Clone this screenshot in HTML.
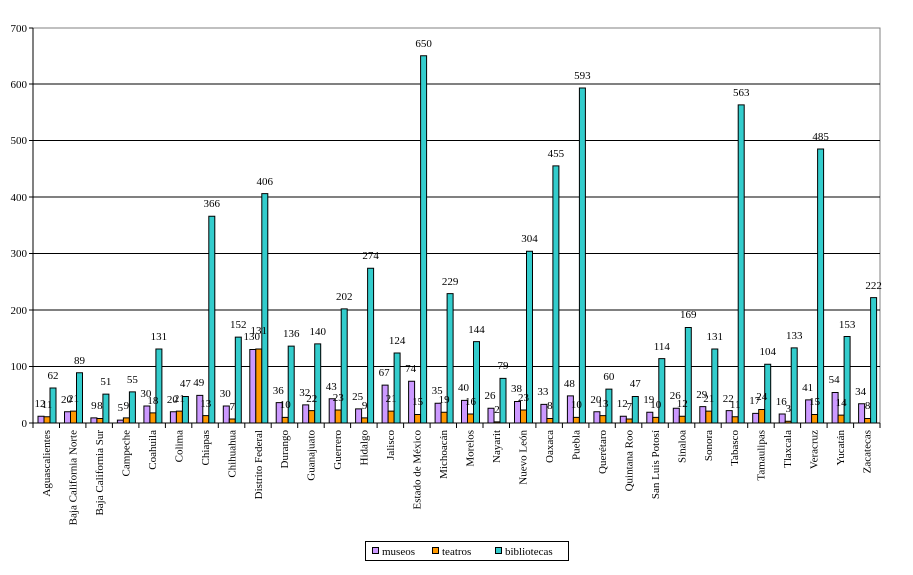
<!DOCTYPE html>
<html><head><meta charset="utf-8"><style>
html,body{margin:0;padding:0;background:#fff}
svg{display:block;font-family:"Liberation Serif",serif;font-size:11px}
.m{fill:#CC99FF}.t{fill:#FF9900}.b{fill:#33CCCC}
rect.m,rect.t,rect.b{stroke:#000;stroke-width:1}
.v text{text-anchor:middle}
</style></head><body>
<svg width="913" height="575" viewBox="0 0 913 575">
<rect x="33" y="28" width="847" height="395" fill="#fff" stroke="#808080"/>
<g stroke="#000" stroke-width="1">
<line x1="33" x2="880" y1="366.5" y2="366.5"/><line x1="33" x2="880" y1="310" y2="310"/>
<line x1="33" x2="880" y1="253.5" y2="253.5"/><line x1="33" x2="880" y1="197" y2="197"/>
<line x1="33" x2="880" y1="140.5" y2="140.5"/><line x1="33" x2="880" y1="84" y2="84"/>
<line x1="33" x2="33" y1="28" y2="423"/><line x1="29" x2="880" y1="423" y2="423"/>
<line x1="29" x2="33" y1="366.5" y2="366.5"/><line x1="29" x2="33" y1="310" y2="310"/><line x1="29" x2="33" y1="253.5" y2="253.5"/><line x1="29" x2="33" y1="197" y2="197"/><line x1="29" x2="33" y1="140.5" y2="140.5"/><line x1="29" x2="33" y1="84" y2="84"/><line x1="29" x2="33" y1="28" y2="28"/>
</g>
<g text-anchor="end">
<text x="27" y="427">0</text><text x="27" y="370">100</text><text x="27" y="314">200</text><text x="27" y="257">300</text><text x="27" y="201">400</text><text x="27" y="144">500</text><text x="27" y="88">600</text><text x="27" y="32">700</text>
</g>
<g stroke="#000">
<line x1="33" x2="33" y1="423" y2="428"/><line x1="59.5" x2="59.5" y1="423" y2="428"/><line x1="85.9" x2="85.9" y1="423" y2="428"/><line x1="112.4" x2="112.4" y1="423" y2="428"/><line x1="138.9" x2="138.9" y1="423" y2="428"/><line x1="165.4" x2="165.4" y1="423" y2="428"/><line x1="191.8" x2="191.8" y1="423" y2="428"/><line x1="218.3" x2="218.3" y1="423" y2="428"/><line x1="244.8" x2="244.8" y1="423" y2="428"/><line x1="271.2" x2="271.2" y1="423" y2="428"/><line x1="297.7" x2="297.7" y1="423" y2="428"/><line x1="324.2" x2="324.2" y1="423" y2="428"/><line x1="350.6" x2="350.6" y1="423" y2="428"/><line x1="377.1" x2="377.1" y1="423" y2="428"/><line x1="403.6" x2="403.6" y1="423" y2="428"/><line x1="430.1" x2="430.1" y1="423" y2="428"/><line x1="456.5" x2="456.5" y1="423" y2="428"/><line x1="483" x2="483" y1="423" y2="428"/><line x1="509.5" x2="509.5" y1="423" y2="428"/><line x1="535.9" x2="535.9" y1="423" y2="428"/><line x1="562.4" x2="562.4" y1="423" y2="428"/><line x1="588.9" x2="588.9" y1="423" y2="428"/><line x1="615.3" x2="615.3" y1="423" y2="428"/><line x1="641.8" x2="641.8" y1="423" y2="428"/><line x1="668.3" x2="668.3" y1="423" y2="428"/><line x1="694.8" x2="694.8" y1="423" y2="428"/><line x1="721.2" x2="721.2" y1="423" y2="428"/><line x1="747.7" x2="747.7" y1="423" y2="428"/><line x1="774.2" x2="774.2" y1="423" y2="428"/><line x1="800.6" x2="800.6" y1="423" y2="428"/><line x1="827.1" x2="827.1" y1="423" y2="428"/><line x1="853.6" x2="853.6" y1="423" y2="428"/><line x1="880" x2="880" y1="423" y2="428"/>
</g>

<!-- bars -->
<g id="bars">
<g transform="translate(33,423) scale(1,-0.565)"><rect class="m" x="5" width="6" height="12" vector-effect="non-scaling-stroke"/><rect class="t" x="11" width="6" height="11" vector-effect="non-scaling-stroke"/><rect class="b" x="17" width="6" height="62" vector-effect="non-scaling-stroke"/></g>
<g transform="translate(59.5,423) scale(1,-0.565)"><rect class="m" x="5" width="6" height="20" vector-effect="non-scaling-stroke"/><rect class="t" x="11" width="6" height="21" vector-effect="non-scaling-stroke"/><rect class="b" x="17" width="6" height="89" vector-effect="non-scaling-stroke"/></g>
<g transform="translate(85.9,423) scale(1,-0.565)"><rect class="m" x="5" width="6" height="9" vector-effect="non-scaling-stroke"/><rect class="t" x="11" width="6" height="8" vector-effect="non-scaling-stroke"/><rect class="b" x="17" width="6" height="51" vector-effect="non-scaling-stroke"/></g>
<g transform="translate(112.4,423) scale(1,-0.565)"><rect class="m" x="5" width="6" height="5" vector-effect="non-scaling-stroke"/><rect class="t" x="11" width="6" height="9" vector-effect="non-scaling-stroke"/><rect class="b" x="17" width="6" height="55" vector-effect="non-scaling-stroke"/></g>
<g transform="translate(138.9,423) scale(1,-0.565)"><rect class="m" x="5" width="6" height="30" vector-effect="non-scaling-stroke"/><rect class="t" x="11" width="6" height="18" vector-effect="non-scaling-stroke"/><rect class="b" x="17" width="6" height="131" vector-effect="non-scaling-stroke"/></g>
<g transform="translate(165.4,423) scale(1,-0.565)"><rect class="m" x="5" width="6" height="20" vector-effect="non-scaling-stroke"/><rect class="t" x="11" width="6" height="21" vector-effect="non-scaling-stroke"/><rect class="b" x="17" width="6" height="47" vector-effect="non-scaling-stroke"/></g>
<g transform="translate(191.8,423) scale(1,-0.565)"><rect class="m" x="5" width="6" height="49" vector-effect="non-scaling-stroke"/><rect class="t" x="11" width="6" height="13" vector-effect="non-scaling-stroke"/><rect class="b" x="17" width="6" height="366" vector-effect="non-scaling-stroke"/></g>
<g transform="translate(218.3,423) scale(1,-0.565)"><rect class="m" x="5" width="6" height="30" vector-effect="non-scaling-stroke"/><rect class="t" x="11" width="6" height="7" vector-effect="non-scaling-stroke"/><rect class="b" x="17" width="6" height="152" vector-effect="non-scaling-stroke"/></g>
<g transform="translate(244.8,423) scale(1,-0.565)"><rect class="m" x="5" width="6" height="130" vector-effect="non-scaling-stroke"/><rect class="t" x="11" width="6" height="131" vector-effect="non-scaling-stroke"/><rect class="b" x="17" width="6" height="406" vector-effect="non-scaling-stroke"/></g>
<g transform="translate(271.2,423) scale(1,-0.565)"><rect class="m" x="5" width="6" height="36" vector-effect="non-scaling-stroke"/><rect class="t" x="11" width="6" height="10" vector-effect="non-scaling-stroke"/><rect class="b" x="17" width="6" height="136" vector-effect="non-scaling-stroke"/></g>
<g transform="translate(297.7,423) scale(1,-0.565)"><rect class="m" x="5" width="6" height="32" vector-effect="non-scaling-stroke"/><rect class="t" x="11" width="6" height="22" vector-effect="non-scaling-stroke"/><rect class="b" x="17" width="6" height="140" vector-effect="non-scaling-stroke"/></g>
<g transform="translate(324.2,423) scale(1,-0.565)"><rect class="m" x="5" width="6" height="43" vector-effect="non-scaling-stroke"/><rect class="t" x="11" width="6" height="23" vector-effect="non-scaling-stroke"/><rect class="b" x="17" width="6" height="202" vector-effect="non-scaling-stroke"/></g>
<g transform="translate(350.6,423) scale(1,-0.565)"><rect class="m" x="5" width="6" height="25" vector-effect="non-scaling-stroke"/><rect class="t" x="11" width="6" height="9" vector-effect="non-scaling-stroke"/><rect class="b" x="17" width="6" height="274" vector-effect="non-scaling-stroke"/></g>
<g transform="translate(377.1,423) scale(1,-0.565)"><rect class="m" x="5" width="6" height="67" vector-effect="non-scaling-stroke"/><rect class="t" x="11" width="6" height="21" vector-effect="non-scaling-stroke"/><rect class="b" x="17" width="6" height="124" vector-effect="non-scaling-stroke"/></g>
<g transform="translate(403.6,423) scale(1,-0.565)"><rect class="m" x="5" width="6" height="74" vector-effect="non-scaling-stroke"/><rect class="t" x="11" width="6" height="15" vector-effect="non-scaling-stroke"/><rect class="b" x="17" width="6" height="650" vector-effect="non-scaling-stroke"/></g>
<g transform="translate(430.1,423) scale(1,-0.565)"><rect class="m" x="5" width="6" height="35" vector-effect="non-scaling-stroke"/><rect class="t" x="11" width="6" height="19" vector-effect="non-scaling-stroke"/><rect class="b" x="17" width="6" height="229" vector-effect="non-scaling-stroke"/></g>
<g transform="translate(456.5,423) scale(1,-0.565)"><rect class="m" x="5" width="6" height="40" vector-effect="non-scaling-stroke"/><rect class="t" x="11" width="6" height="16" vector-effect="non-scaling-stroke"/><rect class="b" x="17" width="6" height="144" vector-effect="non-scaling-stroke"/></g>
<g transform="translate(483,423) scale(1,-0.565)"><rect class="m" x="5" width="6" height="26" vector-effect="non-scaling-stroke"/><rect class="t" x="11" width="6" height="2" vector-effect="non-scaling-stroke"/><rect class="b" x="17" width="6" height="79" vector-effect="non-scaling-stroke"/></g>
<g transform="translate(509.5,423) scale(1,-0.565)"><rect class="m" x="5" width="6" height="38" vector-effect="non-scaling-stroke"/><rect class="t" x="11" width="6" height="23" vector-effect="non-scaling-stroke"/><rect class="b" x="17" width="6" height="304" vector-effect="non-scaling-stroke"/></g>
<g transform="translate(535.9,423) scale(1,-0.565)"><rect class="m" x="5" width="6" height="33" vector-effect="non-scaling-stroke"/><rect class="t" x="11" width="6" height="8" vector-effect="non-scaling-stroke"/><rect class="b" x="17" width="6" height="455" vector-effect="non-scaling-stroke"/></g>
<g transform="translate(562.4,423) scale(1,-0.565)"><rect class="m" x="5" width="6" height="48" vector-effect="non-scaling-stroke"/><rect class="t" x="11" width="6" height="10" vector-effect="non-scaling-stroke"/><rect class="b" x="17" width="6" height="593" vector-effect="non-scaling-stroke"/></g>
<g transform="translate(588.9,423) scale(1,-0.565)"><rect class="m" x="5" width="6" height="20" vector-effect="non-scaling-stroke"/><rect class="t" x="11" width="6" height="13" vector-effect="non-scaling-stroke"/><rect class="b" x="17" width="6" height="60" vector-effect="non-scaling-stroke"/></g>
<g transform="translate(615.3,423) scale(1,-0.565)"><rect class="m" x="5" width="6" height="12" vector-effect="non-scaling-stroke"/><rect class="t" x="11" width="6" height="7" vector-effect="non-scaling-stroke"/><rect class="b" x="17" width="6" height="47" vector-effect="non-scaling-stroke"/></g>
<g transform="translate(641.8,423) scale(1,-0.565)"><rect class="m" x="5" width="6" height="19" vector-effect="non-scaling-stroke"/><rect class="t" x="11" width="6" height="10" vector-effect="non-scaling-stroke"/><rect class="b" x="17" width="6" height="114" vector-effect="non-scaling-stroke"/></g>
<g transform="translate(668.3,423) scale(1,-0.565)"><rect class="m" x="5" width="6" height="26" vector-effect="non-scaling-stroke"/><rect class="t" x="11" width="6" height="12" vector-effect="non-scaling-stroke"/><rect class="b" x="17" width="6" height="169" vector-effect="non-scaling-stroke"/></g>
<g transform="translate(694.8,423) scale(1,-0.565)"><rect class="m" x="5" width="6" height="29" vector-effect="non-scaling-stroke"/><rect class="t" x="11" width="6" height="21" vector-effect="non-scaling-stroke"/><rect class="b" x="17" width="6" height="131" vector-effect="non-scaling-stroke"/></g>
<g transform="translate(721.2,423) scale(1,-0.565)"><rect class="m" x="5" width="6" height="22" vector-effect="non-scaling-stroke"/><rect class="t" x="11" width="6" height="11" vector-effect="non-scaling-stroke"/><rect class="b" x="17" width="6" height="563" vector-effect="non-scaling-stroke"/></g>
<g transform="translate(747.7,423) scale(1,-0.565)"><rect class="m" x="5" width="6" height="17" vector-effect="non-scaling-stroke"/><rect class="t" x="11" width="6" height="24" vector-effect="non-scaling-stroke"/><rect class="b" x="17" width="6" height="104" vector-effect="non-scaling-stroke"/></g>
<g transform="translate(774.2,423) scale(1,-0.565)"><rect class="m" x="5" width="6" height="16" vector-effect="non-scaling-stroke"/><rect class="t" x="11" width="6" height="3" vector-effect="non-scaling-stroke"/><rect class="b" x="17" width="6" height="133" vector-effect="non-scaling-stroke"/></g>
<g transform="translate(800.6,423) scale(1,-0.565)"><rect class="m" x="5" width="6" height="41" vector-effect="non-scaling-stroke"/><rect class="t" x="11" width="6" height="15" vector-effect="non-scaling-stroke"/><rect class="b" x="17" width="6" height="485" vector-effect="non-scaling-stroke"/></g>
<g transform="translate(827.1,423) scale(1,-0.565)"><rect class="m" x="5" width="6" height="54" vector-effect="non-scaling-stroke"/><rect class="t" x="11" width="6" height="14" vector-effect="non-scaling-stroke"/><rect class="b" x="17" width="6" height="153" vector-effect="non-scaling-stroke"/></g>
<g transform="translate(853.6,423) scale(1,-0.565)"><rect class="m" x="5" width="6" height="34" vector-effect="non-scaling-stroke"/><rect class="t" x="11" width="6" height="8" vector-effect="non-scaling-stroke"/><rect class="b" x="17" width="6" height="222" vector-effect="non-scaling-stroke"/></g>
</g>

<!-- value labels -->
<g class="v">
<g transform="translate(33,0)"><text x="7" y="407">12</text><text x="14" y="408">11</text><text x="20" y="379">62</text></g>
<g transform="translate(59.5,0)"><text x="7" y="403">20</text><text x="14" y="402">21</text><text x="20" y="364">89</text></g>
<g transform="translate(85.9,0)"><text x="8" y="409">9</text><text x="14" y="409">8</text><text x="20" y="385">51</text></g>
<g transform="translate(112.4,0)"><text x="8" y="411">5</text><text x="14" y="409">9</text><text x="20" y="383">55</text></g>
<g transform="translate(138.9,0)"><text x="7" y="397">30</text><text x="14" y="404">18</text><text x="20" y="340">131</text></g>
<g transform="translate(165.4,0)"><text x="7" y="403">20</text><text x="14" y="402">21</text><text x="20" y="387">47</text></g>
<g transform="translate(191.8,0)"><text x="7" y="386">49</text><text x="14" y="407">13</text><text x="20" y="207">366</text></g>
<g transform="translate(218.3,0)"><text x="7" y="397">30</text><text x="14" y="410">7</text><text x="20" y="328">152</text></g>
<g transform="translate(244.8,0)"><text x="7" y="340">130</text><text x="14" y="334">131</text><text x="20" y="185">406</text></g>
<g transform="translate(271.2,0)"><text x="7" y="394">36</text><text x="14" y="408">10</text><text x="20" y="337">136</text></g>
<g transform="translate(297.7,0)"><text x="7" y="396">32</text><text x="14" y="402">22</text><text x="20" y="335">140</text></g>
<g transform="translate(324.2,0)"><text x="7" y="390">43</text><text x="14" y="401">23</text><text x="20" y="300">202</text></g>
<g transform="translate(350.6,0)"><text x="7" y="400">25</text><text x="14" y="409">9</text><text x="20" y="259">274</text></g>
<g transform="translate(377.1,0)"><text x="7" y="376">67</text><text x="14" y="402">21</text><text x="20" y="344">124</text></g>
<g transform="translate(403.6,0)"><text x="7" y="372">74</text><text x="14" y="405">15</text><text x="20" y="47">650</text></g>
<g transform="translate(430.1,0)"><text x="7" y="394">35</text><text x="14" y="403">19</text><text x="20" y="285">229</text></g>
<g transform="translate(456.5,0)"><text x="7" y="391">40</text><text x="14" y="405">16</text><text x="20" y="333">144</text></g>
<g transform="translate(483,0)"><text x="7" y="399">26</text><text x="14" y="413">2</text><text x="20" y="369">79</text></g>
<g transform="translate(509.5,0)"><text x="7" y="392">38</text><text x="14" y="401">23</text><text x="20" y="242">304</text></g>
<g transform="translate(535.9,0)"><text x="7" y="395">33</text><text x="14" y="409">8</text><text x="20" y="157">455</text></g>
<g transform="translate(562.4,0)"><text x="7" y="387">48</text><text x="14" y="408">10</text><text x="20" y="79">593</text></g>
<g transform="translate(588.9,0)"><text x="7" y="403">20</text><text x="14" y="407">13</text><text x="20" y="380">60</text></g>
<g transform="translate(615.3,0)"><text x="7" y="407">12</text><text x="14" y="410">7</text><text x="20" y="387">47</text></g>
<g transform="translate(641.8,0)"><text x="7" y="403">19</text><text x="14" y="408">10</text><text x="20" y="350">114</text></g>
<g transform="translate(668.3,0)"><text x="7" y="399">26</text><text x="14" y="407">12</text><text x="20" y="318">169</text></g>
<g transform="translate(694.8,0)"><text x="7" y="398">29</text><text x="14" y="402">21</text><text x="20" y="340">131</text></g>
<g transform="translate(721.2,0)"><text x="7" y="402">22</text><text x="14" y="408">11</text><text x="20" y="96">563</text></g>
<g transform="translate(747.7,0)"><text x="7" y="404">17</text><text x="14" y="400">24</text><text x="20" y="355">104</text></g>
<g transform="translate(774.2,0)"><text x="7" y="405">16</text><text x="14" y="412">3</text><text x="20" y="339">133</text></g>
<g transform="translate(800.6,0)"><text x="7" y="391">41</text><text x="14" y="405">15</text><text x="20" y="140">485</text></g>
<g transform="translate(827.1,0)"><text x="7" y="383">54</text><text x="14" y="406">14</text><text x="20" y="328">153</text></g>
<g transform="translate(853.6,0)"><text x="7" y="395">34</text><text x="14" y="409">8</text><text x="20" y="289">222</text></g>
</g>

<!-- category labels -->
<g text-anchor="end">
<text transform="translate(50,430) rotate(-90)">Aguascalientes</text>
<text transform="translate(76.5,430) rotate(-90)">Baja California Norte</text>
<text transform="translate(102.9,430) rotate(-90)">Baja California Sur</text>
<text transform="translate(129.4,430) rotate(-90)">Campeche</text>
<text transform="translate(155.9,430) rotate(-90)">Coahuila</text>
<text transform="translate(182.4,430) rotate(-90)">Colima</text>
<text transform="translate(208.8,430) rotate(-90)">Chiapas</text>
<text transform="translate(235.3,430) rotate(-90)">Chihuahua</text>
<text transform="translate(261.8,430) rotate(-90)">Distrito Federal</text>
<text transform="translate(288.2,430) rotate(-90)">Durango</text>
<text transform="translate(314.7,430) rotate(-90)">Guanajuato</text>
<text transform="translate(341.2,430) rotate(-90)">Guerrero</text>
<text transform="translate(367.6,430) rotate(-90)">Hidalgo</text>
<text transform="translate(394.1,430) rotate(-90)">Jalisco</text>
<text transform="translate(420.6,430) rotate(-90)">Estado de México</text>
<text transform="translate(447.1,430) rotate(-90)">Michoacán</text>
<text transform="translate(473.5,430) rotate(-90)">Morelos</text>
<text transform="translate(500,430) rotate(-90)">Nayarit</text>
<text transform="translate(526.5,430) rotate(-90)">Nuevo León</text>
<text transform="translate(552.9,430) rotate(-90)">Oaxaca</text>
<text transform="translate(579.4,430) rotate(-90)">Puebla</text>
<text transform="translate(605.9,430) rotate(-90)">Querétaro</text>
<text transform="translate(632.3,430) rotate(-90)">Quintana Roo</text>
<text transform="translate(658.8,430) rotate(-90)">San Luis Potosí</text>
<text transform="translate(685.3,430) rotate(-90)">Sinaloa</text>
<text transform="translate(711.8,430) rotate(-90)">Sonora</text>
<text transform="translate(738.2,430) rotate(-90)">Tabasco</text>
<text transform="translate(764.7,430) rotate(-90)">Tamaulipas</text>
<text transform="translate(791.2,430) rotate(-90)">Tlaxcala</text>
<text transform="translate(817.6,430) rotate(-90)">Veracruz</text>
<text transform="translate(844.1,430) rotate(-90)">Yucatán</text>
<text transform="translate(870.6,430) rotate(-90)">Zacatecas</text>
</g>

<!-- legend -->
<rect x="365.5" y="541.5" width="203" height="19" fill="#fff" stroke="#000"/>
<rect class="m" x="372.5" y="547.5" width="6" height="6"/><text x="382" y="555">museos</text>
<rect class="t" x="432.5" y="547.5" width="6" height="6"/><text x="442" y="555">teatros</text>
<rect class="b" x="495.5" y="547.5" width="6" height="6"/><text x="505" y="555">bibliotecas</text>
</svg>
</body></html>
